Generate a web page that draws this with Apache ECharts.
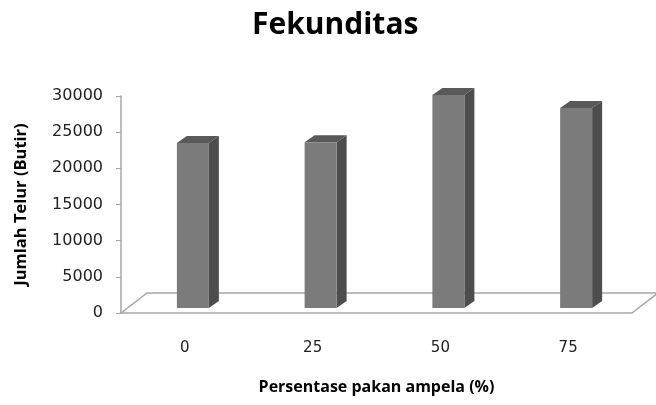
<!DOCTYPE html>
<html>
<head>
<meta charset="utf-8">
<script src="https://cdn.jsdelivr.net/npm/echarts@6/dist/echarts.min.js"></script>
<style>
  html, body { margin: 0; padding: 0; background: #ffffff; }
  #chart { width: 656px; height: 405px; }
</style>
</head>
<body>
<div id="chart"></div>
<script>
// Fecundity (number of eggs) per feed percentage
const categories = ['0', '25', '50', '75'];
const eggCounts = [22800, 22900, 29450, 27650];
const yMin = 0;
const yMax = 30000;
const yStep = 5000;

const gridLine = '#a6a6a6';

// Pseudo-3D column: front face, right side face and top face
function renderColumn(params, api) {
  const i = api.value(0);
  const v = api.value(1);
  const base = api.coord([i, 0]);
  const top = api.coord([i, v]);
  const lift = 5, dx = 10, dy = 7, offset = -8, w = 32;
  const x0 = base[0] + offset;
  const x1 = x0 + w;
  const yb = base[1] - lift;
  const yt = top[1] - lift;
  return {
    type: 'group',
    children: [
      { type: 'polygon', shape: { points: [[x1, yt], [x1 + dx, yt - dy], [x1 + dx, yb - dy], [x1, yb]] },
        style: { fill: '#4d4d4d' } },
      { type: 'polygon', shape: { points: [[x0, yt], [x0 + dx, yt - dy], [x1 + dx, yt - dy], [x1, yt]] },
        style: { fill: '#595959' } },
      { type: 'rect', shape: { x: x0, y: yt, width: w, height: yb - yt },
        style: { fill: '#7b7b7b' } }
    ]
  };
}

// Floor outline receding behind the category axis
function renderFloor(params, api) {
  const cs = params.coordSys;
  const xl = cs.x, xr = cs.x + cs.width, yf = cs.y + cs.height;
  const dx = 26, dy = 20;
  return {
    type: 'polyline',
    shape: { points: [[xl, yf], [xl + dx, yf - dy], [xr + dx, yf - dy], [xr, yf]] },
    style: { stroke: gridLine, lineWidth: 1.5, fill: null }
  };
}

const chart = echarts.init(document.getElementById('chart'), null, { renderer: 'canvas' });
chart.setOption({
  animation: false,
  backgroundColor: '#ffffff',
  title: {
    text: 'Fekunditas',
    left: 247,
    top: 5,
    textStyle: { fontFamily: 'Open Sans', fontWeight: 'bold', fontSize: 30, color: '#000000' }
  },
  grid: { left: 121, right: 24, top: 96, bottom: 92, containLabel: false },
  xAxis: {
    type: 'category',
    data: categories,
    boundaryGap: true,
    name: 'Persentase pakan ampela (%)',
    nameLocation: 'middle',
    nameGap: 66,
    nameTextStyle: { fontFamily: 'Open Sans', fontWeight: 'bold', fontSize: 16, color: '#000000' },
    axisLine: { show: true, lineStyle: { color: gridLine, width: 1.5 } },
    axisTick: { show: false },
    axisLabel: { margin: 28, fontFamily: 'DejaVu Sans', fontSize: 15, color: '#222222' },
    splitLine: { show: false }
  },
  yAxis: {
    type: 'value',
    min: yMin,
    max: yMax,
    interval: yStep,
    name: 'Jumlah Telur (Butir)',
    nameLocation: 'middle',
    nameGap: 91,
    nameTextStyle: { fontFamily: 'Open Sans', fontWeight: 'bold', fontSize: 16.5, color: '#000000' },
    axisLine: { show: true, lineStyle: { color: gridLine, width: 1.5 } },
    axisTick: { show: true, length: 5, lineStyle: { color: gridLine } },
    axisLabel: {
      margin: 18,
      fontFamily: 'DejaVu Sans',
      fontSize: 16,
      color: '#222222',
      formatter: (val) => String(val)
    },
    splitLine: { show: false }
  },
  series: [
    {
      type: 'custom',
      name: 'floor',
      silent: true,
      z: 1,
      renderItem: renderFloor,
      data: [[0, 0]]
    },
    {
      type: 'custom',
      name: 'Fekunditas',
      z: 2,
      renderItem: renderColumn,
      encode: { x: 0, y: 1 },
      data: eggCounts.map((v, i) => [i, v])
    }
  ]
});
</script>
</body>
</html>
